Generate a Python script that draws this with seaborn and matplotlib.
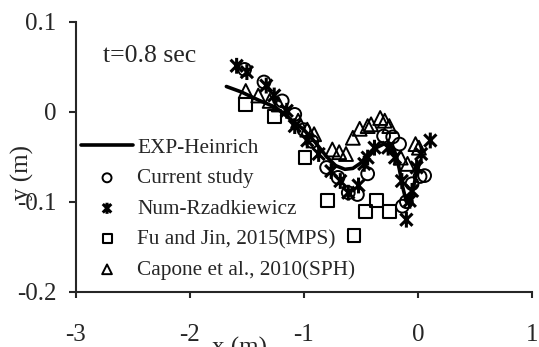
import matplotlib
matplotlib.use("Agg")
import matplotlib.pyplot as plt
from matplotlib.path import Path
import seaborn as sns

# Experimental free surface (Heinrich)
exp_x = [-1.68, -1.55, -1.40, -1.25, -1.10, -1.00, -0.90, -0.80, -0.72, -0.64,
         -0.57, -0.50, -0.44, -0.38, -0.30, -0.24, -0.19, -0.16, -0.13, -0.10,
         -0.07, -0.04, -0.01, 0.02]
exp_y = [0.028, 0.022, 0.013, 0.005, -0.010, -0.020, -0.034, -0.050, -0.060, -0.064,
         -0.063, -0.057, -0.048, -0.041, -0.036, -0.037, -0.048, -0.065, -0.085, -0.100,
         -0.098, -0.085, -0.068, -0.055]

# Current study
cur_x = [-1.52, -1.35, -1.19, -1.08, -1.00, -0.93, -0.80, -0.70, -0.61, -0.53,
         -0.44, -0.30, -0.22, -0.16, -0.135, -0.10, -0.05, 0.02, 0.06]
cur_y = [0.047, 0.033, 0.012, -0.003, -0.020, -0.033, -0.062, -0.073, -0.090, -0.092,
         -0.069, -0.027, -0.028, -0.036, -0.105, -0.100, -0.080, -0.072, -0.071]

# Num-Rzadkiewicz
num_x = [-1.59, -1.50, -1.33, -1.26, -1.15, -1.08, -0.97, -0.87, -0.76, -0.68,
         -0.61, -0.52, -0.47, -0.44, -0.38, -0.26, -0.20, -0.14, -0.10, -0.07,
         -0.05, -0.01, 0.03, 0.11]
num_y = [0.051, 0.044, 0.029, 0.018, 0.001, -0.016, -0.032, -0.047, -0.066, -0.077,
         -0.090, -0.082, -0.058, -0.051, -0.040, -0.040, -0.051, -0.077, -0.120, -0.099,
         -0.088, -0.062, -0.047, -0.032]

# Fu and Jin, 2015 (MPS)
fu_x = [-1.51, -1.26, -0.99, -0.79, -0.56, -0.46, -0.36, -0.25]
fu_y = [0.008, -0.005, -0.051, -0.099, -0.138, -0.111, -0.099, -0.111]

# Capone et al., 2010 (SPH)
cap_x = [-1.51, -1.40, -1.30, -1.22, -1.05, -0.97, -0.91, -0.75, -0.69, -0.63,
         -0.57, -0.51, -0.44, -0.41, -0.33, -0.29, -0.25, -0.15, -0.09, -0.02, 0.01]
cap_y = [0.023, 0.018, 0.012, 0.008, -0.010, -0.020, -0.025, -0.042, -0.045, -0.047,
         -0.029, -0.019, -0.016, -0.014, -0.007, -0.010, -0.016, -0.051, -0.058, -0.036, -0.040]

x_ticks = [-3, -2, -1, 0, 1]
x_tick_labels = ["-3", "-2", "-1", "0", "1"]
y_ticks = [-0.2, -0.1, 0.0, 0.1]
y_tick_labels = ["-0.2", "-0.1", "0", "0.1"]

sns.set_style("ticks")
plt.rcParams['font.family'] = ['Liberation Serif', 'DejaVu Serif']
plt.rcParams['axes.linewidth'] = 1.5

W, H = 539, 347
fig = plt.figure(figsize=(W / 100, H / 100), dpi=100)
left, right, top, bottom = 76, 531.7, 21.7, 291.7
ax = fig.add_axes([left / W, 1 - bottom / H, (right - left) / W, (bottom - top) / H])

# asterisk-like marker: an X with a vertical bar
star = Path([(-1, -1), (1, 1), (-1, 1), (1, -1), (0, -1.3), (0, 1.3)],
            [Path.MOVETO, Path.LINETO, Path.MOVETO, Path.LINETO, Path.MOVETO, Path.LINETO])

sns.lineplot(x=exp_x, y=exp_y, sort=False, color="black", lw=2.6, ax=ax,
             label="EXP-Heinrich")
sns.scatterplot(x=cur_x, y=cur_y, marker="o", s=85, fc="none", ec="black",
                linewidth=1.4, ax=ax, label="Current study")
sns.scatterplot(x=num_x, y=num_y, marker=star, s=130, fc="none", ec="black",
                linewidth=2.2, ax=ax, label="Num-Rzadkiewicz")
sns.scatterplot(x=fu_x, y=fu_y, marker="s", s=85, fc="none", ec="black",
                linewidth=1.5, ax=ax, label="Fu and Jin, 2015(MPS)")
sns.scatterplot(x=cap_x, y=cap_y, marker="^", s=100, fc="none", ec="black",
                linewidth=1.4, ax=ax, label="Capone et al., 2010(SPH)")

ax.set_xlim(-3, 1)
ax.set_ylim(-0.2, 0.1)
ax.set_xticks(x_ticks)
ax.set_xticklabels(x_tick_labels)
ax.set_yticks(y_ticks)
ax.set_yticklabels(y_tick_labels)
ax.tick_params(axis="x", direction="out", length=4, width=1.5, pad=19, labelsize=18)
ax.tick_params(axis="y", direction="out", length=5, width=1.5, pad=9, labelsize=18)
ax.set_xlabel("")
ax.set_ylabel("")
sns.despine(ax=ax)

fig.text(239 / W, 1 - 337 / H, "x (m)", ha="center", va="top", fontsize=18)
fig.text(22 / W, 1 - 172 / H, "y (m)", ha="center", va="center", rotation=90, fontsize=18)
fig.text(103 / W, 1 - 62 / H, "t=0.8 sec", ha="left", va="baseline", fontsize=18.5)

ax.legend(loc="upper left", bbox_to_anchor=(81 / W, 1 - 138 / H),
          bbox_transform=fig.transFigure, frameon=False, fontsize=15.3,
          handlelength=2.45, handletextpad=0.2, labelspacing=0.5,
          borderpad=0, borderaxespad=0, markerscale=0.7)

fig.savefig("out.png", dpi=100)
